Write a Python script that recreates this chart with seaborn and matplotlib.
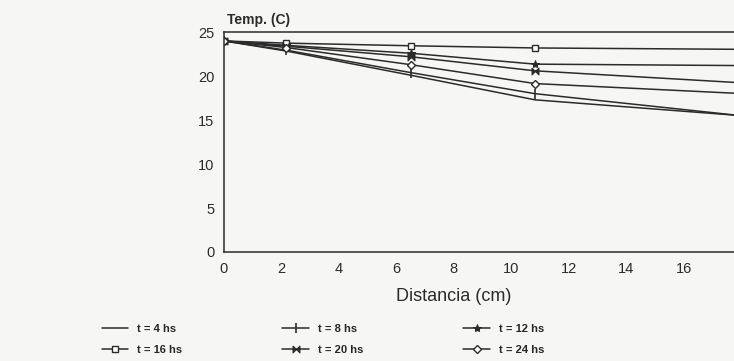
import numpy as np
import pandas as pd
import seaborn as sns
import matplotlib.pyplot as plt

# distancia en cm y temperaturas
dist = [0, 2.17, 6.5, 10.83, 20]
t4 = [24, 22.85, 20.1, 17.3, 15.0]
t8 = [24, 22.95, 20.4, 18.0, 14.8]
t12 = [24, 23.5, 22.6, 21.36, 21.15]
t16 = [24, 23.75, 23.45, 23.2, 23.0]
t20 = [24, 23.4, 22.2, 20.6, 18.86]
t24 = [24, 23.25, 21.3, 19.15, 17.7]

labels = ["t = 4 hs", "t = 8 hs", "t = 12 hs", "t = 16 hs", "t = 20 hs", "t = 24 hs"]
series = [t4, t8, t12, t16, t20, t24]

bowtie = [(-1, 1), (-1, -1), (1, 1), (1, -1), (-1, 1)]
estilos = {
    "t = 4 hs": dict(marker=None),
    "t = 8 hs": dict(marker="|", markersize=7, markeredgewidth=1.2),
    "t = 12 hs": dict(marker="*", markersize=6),
    "t = 16 hs": dict(marker="s", markersize=4.5, markerfacecolor="white", markeredgewidth=1),
    "t = 20 hs": dict(marker=bowtie, markersize=5),
    "t = 24 hs": dict(marker="D", markersize=4, markerfacecolor="white", markeredgewidth=1),
}

sns.set_style("white")
plt.rcParams['font.family'] = ['Liberation Sans', 'DejaVu Sans']

fondo = "#f6f6f4"
tinta = "#2b2b2b"

fig = plt.figure(figsize=(7.34, 3.61), dpi=100, facecolor=fondo)
ax = fig.add_axes([0.305, 0.302, 0.783, 0.609])
ax.set_facecolor(fondo)

for lab, vals in zip(labels, series):
    sns.lineplot(x=dist, y=vals, ax=ax, color=tinta, linewidth=1.1,
                 markeredgecolor=tinta, label=lab, **estilos[lab])

ax.set_xlim(0, 20)
ax.set_ylim(0, 25)
ax.set_xticks(np.arange(0, 17, 2))
ax.set_yticks(np.arange(0, 26, 5))
ax.tick_params(direction="in", length=5, width=1, colors=tinta, labelsize=10.5, pad=7)
for s in ax.spines.values():
    s.set_color(tinta)
    s.set_linewidth(1.1)

ax.set_xlabel("Distancia (cm)", fontsize=13, color=tinta)
ax.xaxis.set_label_coords(8 / 20, -0.165)
ax.set_ylabel("")
ax.text(0.005, 1.055, "Temp. (C)", transform=ax.transAxes, fontsize=10,
        fontweight="bold", color=tinta, ha="left", va="center")

# leyenda: fila 1 = 4, 8, 12 ; fila 2 = 16, 20, 24
h, l = ax.get_legend_handles_labels()
orden = [0, 3, 1, 4, 2, 5]
ax.legend([h[i] for i in orden], [l[i] for i in orden], ncol=3, frameon=False,
          loc="upper left", bbox_to_anchor=(0.125, 0.13), bbox_transform=fig.transFigure,
          handlelength=2.4, columnspacing=9.0, labelspacing=0.95,
          prop={"weight": "bold", "size": 8})

fig.savefig("out.png", dpi=100, facecolor=fondo)
